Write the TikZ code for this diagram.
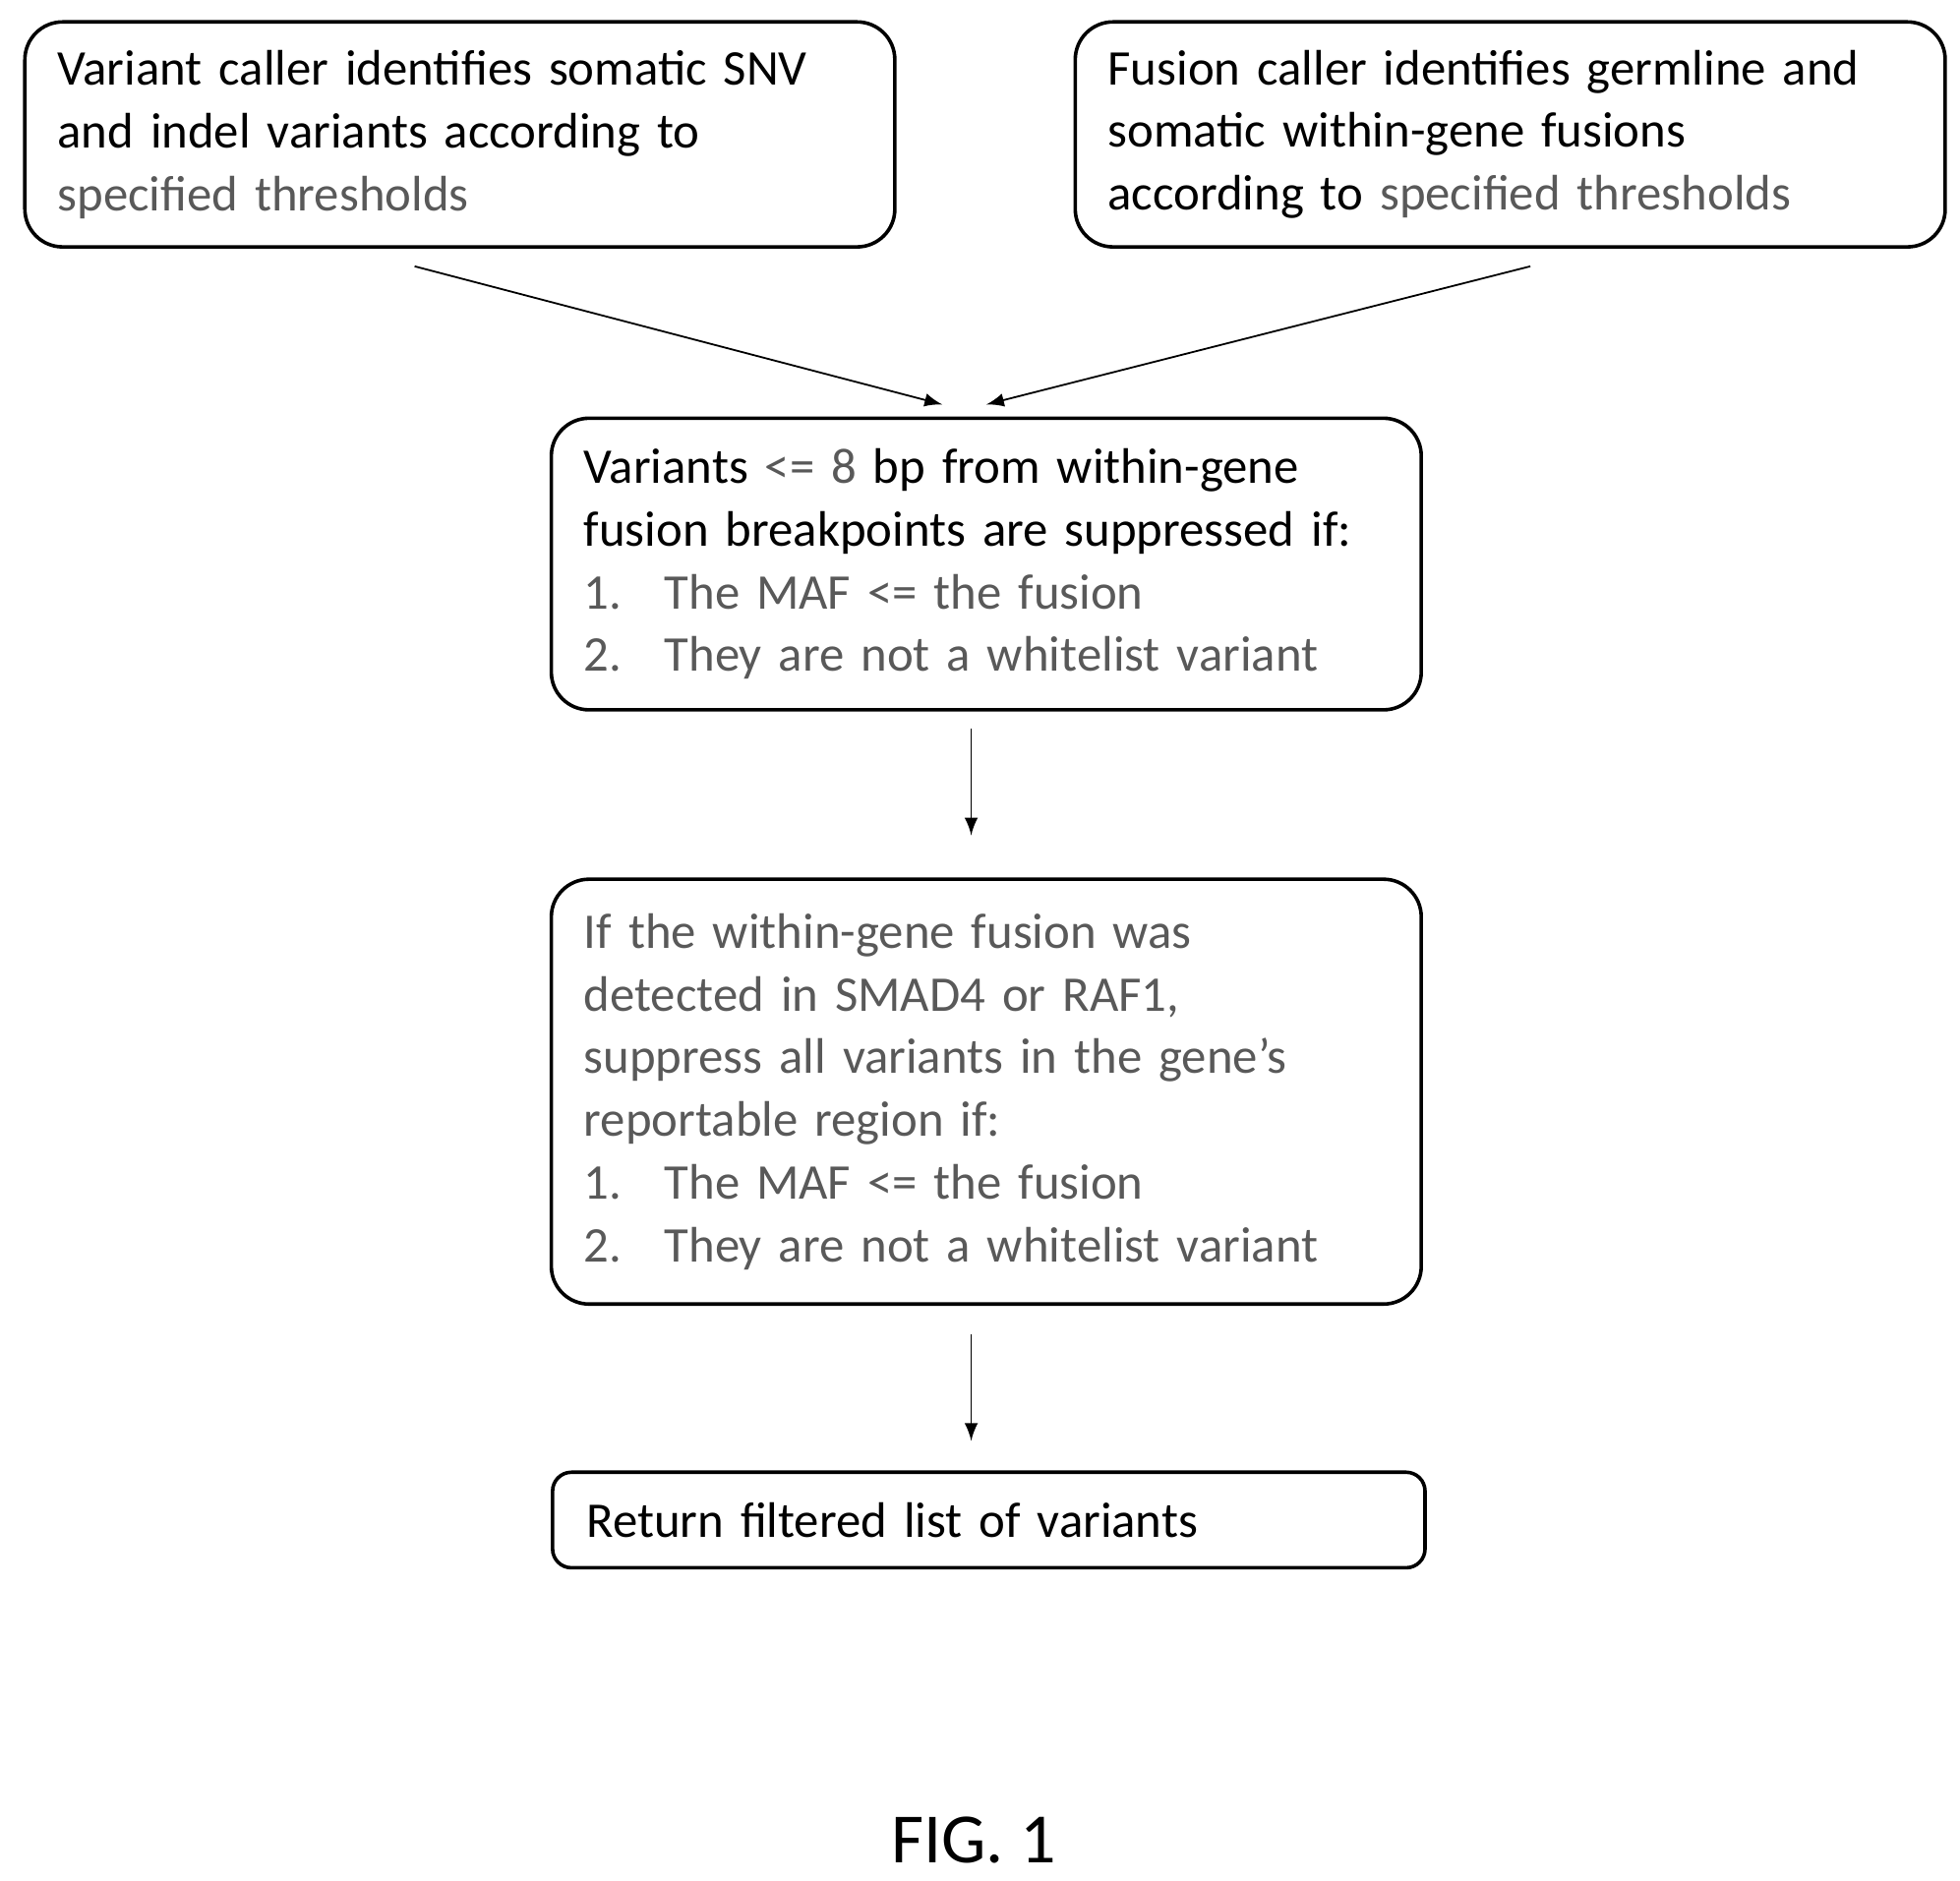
\documentclass[tikz,border=0pt]{standalone}
\usepackage{fontspec}
\setmainfont{Carlito}
\usetikzlibrary{positioning}
\definecolor{textgray}{gray}{0.35}
\tikzset{
    stepbox/.style={
        rectangle,
        rounded corners=0.3cm,
        draw,
        thick, % 边框加粗
        inner xsep=0.26cm,
        inner ysep=0,
        text width=6.40cm,
        minimum width=6.92cm,
        align=left,
        font=\fontsize{11.3pt}{14.2pt}\selectfont
    },
    flow/.style={->, >=latex, thin}
}
\newcommand{\listitem}[1]{\makebox[0.64cm][l]{#1}}

\begin{document}
\begin{tikzpicture}[x=0.01cm, y=-0.01cm]
    \useasboundingbox (0,0) rectangle (1560,1497);
    % 两个调用器
    \node[stepbox, minimum height=1.79cm] (varcall) at (366,107)
        {Variant caller identifies somatic SNV\\ and indel variants according to\\ \textcolor{textgray}{specified thresholds}};
    \node[stepbox, minimum height=1.79cm] (fuscall) at (1202,107)
        {Fusion caller identifies germline and\\ somatic within-gene fusions\\ according to \textcolor{textgray}{specified thresholds}};
    % 断点过滤
    \node[stepbox, minimum height=2.32cm] (bpfilter) at (785,449)
        {Variants \textcolor{textgray}{<= 8} bp from within-gene\\ fusion breakpoints are suppressed if:\\
        \textcolor{textgray}{\listitem{1.}The MAF <= the fusion}\\
        \textcolor{textgray}{\listitem{2.}They are not a whitelist variant}};
    % 基因过滤
    \node[stepbox, minimum height=3.38cm] (genefilter) at (785,869)
        {\textcolor{textgray}{If the within-gene fusion was\\ detected in SMAD4 or RAF1,\\ suppress all variants in the gene’s\\ reportable region if:\\
        \listitem{1.}The MAF <= the fusion\\
        \listitem{2.}They are not a whitelist variant}};
    % 结果
    \node[stepbox, minimum height=0.76cm, inner xsep=0.27cm, rounded corners=0.15cm] (result) at (787,1210)
        {Return filtered list of variants};
    \node[font=\fontsize{16pt}{19pt}\selectfont] (figlabel) at (775,1465) {FIG. 1};

    \coordinate (varout) at (330,212);
    \coordinate (fusout) at (1218,212);
    \coordinate (bpinl) at (750,322);
    \coordinate (bpinr) at (785,322);
    \coordinate (bpout) at (773,580);
    \coordinate (genein) at (773,665);
    \coordinate (geneout) at (773,1062);
    \coordinate (resin) at (773,1147);
    \draw[flow] (varout) -- (bpinl);
    \draw[flow] (fusout) -- (bpinr);
    \draw[flow] (bpout) -- (genein);
    \draw[flow] (geneout) -- (resin);
\end{tikzpicture}
\end{document}
